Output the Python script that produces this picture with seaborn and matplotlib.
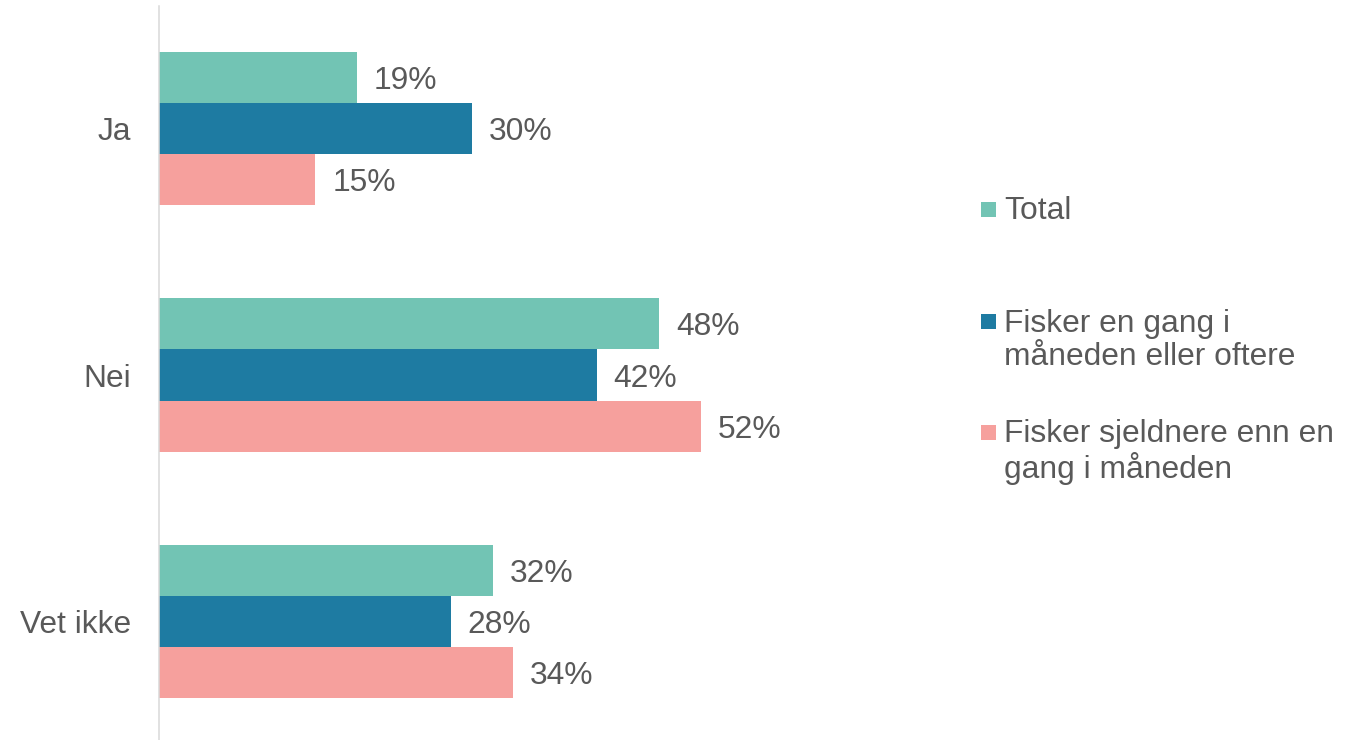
import matplotlib
matplotlib.use("Agg")
import matplotlib.pyplot as plt
from matplotlib.patches import Rectangle
import seaborn as sns
import pandas as pd

categories = ["Ja", "Nei", "Vet ikke"]
series = ["Total", "Fisker en gang i\nmåneden eller oftere", "Fisker sjeldnere enn en\ngang i måneden"]
total = [19, 48, 32]
monthly = [30, 42, 28]
rarely = [15, 52, 34]
colors = ["#72C4B4", "#1E7BA2", "#F6A09D"]

rows = []
for s, vals in zip(series, [total, monthly, rarely]):
    for c, v in zip(categories, vals):
        rows.append({"cat": c, "series": s, "value": v})
df = pd.DataFrame(rows)

sns.set_theme(style="white")
plt.rcParams["font.family"] = ["Liberation Sans", "DejaVu Sans"]
TXT = "#595959"
FS = 22.9

fig = plt.figure(figsize=(13.66, 7.4), dpi=100)
ax = fig.add_axes([159 / 1366, 1 - 744.5 / 740, 741 / 1366, 739 / 740])

sns.barplot(data=df, y="cat", x="value", hue="series", order=categories,
            hue_order=series, palette=colors, orient="h", width=0.622,
            linewidth=0, saturation=1, ax=ax, legend=False)

for cont in ax.containers:
    texts = ax.bar_label(cont, labels=[f"{int(round(b.get_width()))}%" for b in cont],
                         padding=12.2, fontsize=FS, color=TXT)
    for t in texts:
        t.set_va("center_baseline")

ax.set_xlim(0, 71.1)
ax.set_ylim(2.5, -0.5)
ax.set_xlabel("")
ax.set_ylabel("")
ax.set_xticks([])
ax.tick_params(axis="y", length=0, pad=20, labelsize=FS, labelcolor=TXT)
for lbl in ax.get_yticklabels():
    lbl.set_va("center_baseline")
for side in ["top", "right", "bottom"]:
    ax.spines[side].set_visible(False)
ax.spines["left"].set_color("#D9D9D9")
ax.spines["left"].set_linewidth(1.1)
ax.patch.set_alpha(0)

# legend (handle aligned with first text line)
leg_y = [209, 322, 432]
for lab, col, y in zip(series, colors, leg_y):
    fig.add_artist(Rectangle((981 / 1366, 1 - (y + 7.5) / 740), 15 / 1366, 15 / 740,
                             transform=fig.transFigure, color=col, lw=0))
    fig.text(1004 / 1366, 1 - (y - 13) / 740, lab, fontsize=FS, color=TXT,
             ha="left", va="top", linespacing=1.13)

fig.savefig("out.png", dpi=100)
